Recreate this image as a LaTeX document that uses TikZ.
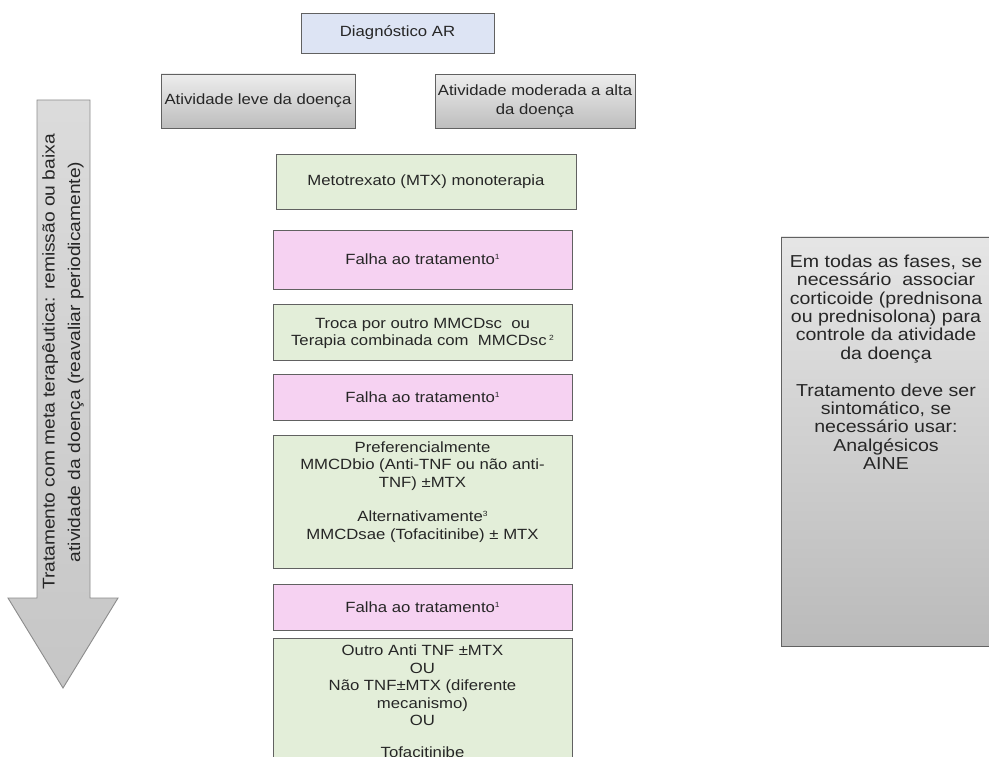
\documentclass[tikz,border=0pt]{standalone}
\usepackage{fontspec}
\setmainfont{Liberation Sans}[FakeStretch=1.13]
\newcommand{\supnum}[1]{\raisebox{5pt}{\fontsize{7.5}{8}\selectfont #1}}
\begin{document}
\begin{tikzpicture}[x=1pt,y=-1pt,
  boxline/.style={draw=black!62, line width=0.9pt},
  txt/.style={inner sep=0pt, align=center, text=black!85,
    font=\fontsize{14.8}{17.4}\selectfont},
  box/.style={boxline, rectangle, txt},
  bluebox/.style={box, fill=blueish},
  greybox/.style={box, top color=black!7, bottom color=black!26},
  greenbox/.style={box, fill=greenish},
  pinkbox/.style={box, fill=pinkish}]
\definecolor{blueish}{HTML}{DDE4F4}
\definecolor{greenish}{HTML}{E3EED9}
\definecolor{pinkish}{HTML}{F6D2F2}
\definecolor{arrowgrey}{HTML}{C6C6C6}

\useasboundingbox (0,0) rectangle (989,757);
\clip (0,0) rectangle (989,757);
\fill[white] (0,0) rectangle (989,757);

% top of the flow
\node[bluebox, minimum width=193, minimum height=40] (diag) at (397.5,33) {Diagnóstico AR};
\node[greybox, minimum width=194, minimum height=54] (leve) at (258,101) {Atividade leve da doença};
\node[greybox, minimum width=200, minimum height=54, font=\fontsize{14.8}{18.6}\selectfont] (mod) at (535,101.5) {Atividade moderada a alta\\da doença};

% treatment steps
\node[greenbox, minimum width=300, minimum height=55] (mtx) at (426,181.5) {Metotrexato (MTX) monoterapia};
\node[pinkbox, minimum width=299, minimum height=59] (falha1) at (422.5,259.5) {Falha ao tratamento\supnum{1}};
\node[greenbox, minimum width=299, minimum height=56] (troca) at (422.5,332) {};
\node[txt] (trocatxt) at (422.5,333.5) {Troca por outro MMCDsc\ \ ou\\Terapia combinada com\ \ MMCDsc\,\supnum{2}};
\node[pinkbox, minimum width=299, minimum height=46] (falha2) at (422.5,397) {Falha ao tratamento\supnum{1}};
\node[greenbox, minimum width=299, minimum height=133] (bio) at (422.5,501.5) {};
\node[txt] (biotxt) at (422.5,492) {Preferencialmente\\MMCDbio (Anti-TNF ou não anti-\\TNF) ±MTX\\[17.4pt]Alternativamente\supnum{3}\\MMCDsae (Tofacitinibe) ± MTX};
\node[pinkbox, minimum width=299, minimum height=46] (falha3) at (422.5,607) {Falha ao tratamento\supnum{1}};
\node[greenbox, minimum width=299, minimum height=140] (outro) at (422.5,708) {};
\node[txt, anchor=north] (outrotxt) at (422.5,645) {Outro Anti TNF ±MTX\\OU\\Não TNF±MTX (diferente\\mecanismo)\\OU\\[15pt]Tofacitinibe};

% side note
\node[boxline, rectangle, top color=black!10, bottom color=black!27, minimum width=212, minimum height=409] (nota) at (887,441.5) {};
\node[txt, anchor=north, font=\fontsize{17.3}{18.4}\selectfont] (notatxt) at (886,254.5)
  {Em todas as fases, se\\necessário\ \ associar\\corticoide (prednisona\\ou prednisolona) para\\controle da atividade\\da doença\\[18.4pt]Tratamento deve ser\\sintomático, se\\necessário usar:\\Analgésicos\\AINE};

% downward arrow with its caption
\draw[draw=black!45, line width=0.9pt, top color=black!14, bottom color=arrowgrey]
  (37,100) -- (90,100) -- (90,598) -- (118,598) -- (63,688) -- (8,598) -- (37,598) -- cycle;
\node[txt, rotate=90, font=\fontsize{17}{25.5}\selectfont] (seta) at (63,362)
  {Tratamento com meta terapêutica: remissão ou baixa\\atividade da doença (reavaliar periodicamente)};
\end{tikzpicture}
\end{document}
